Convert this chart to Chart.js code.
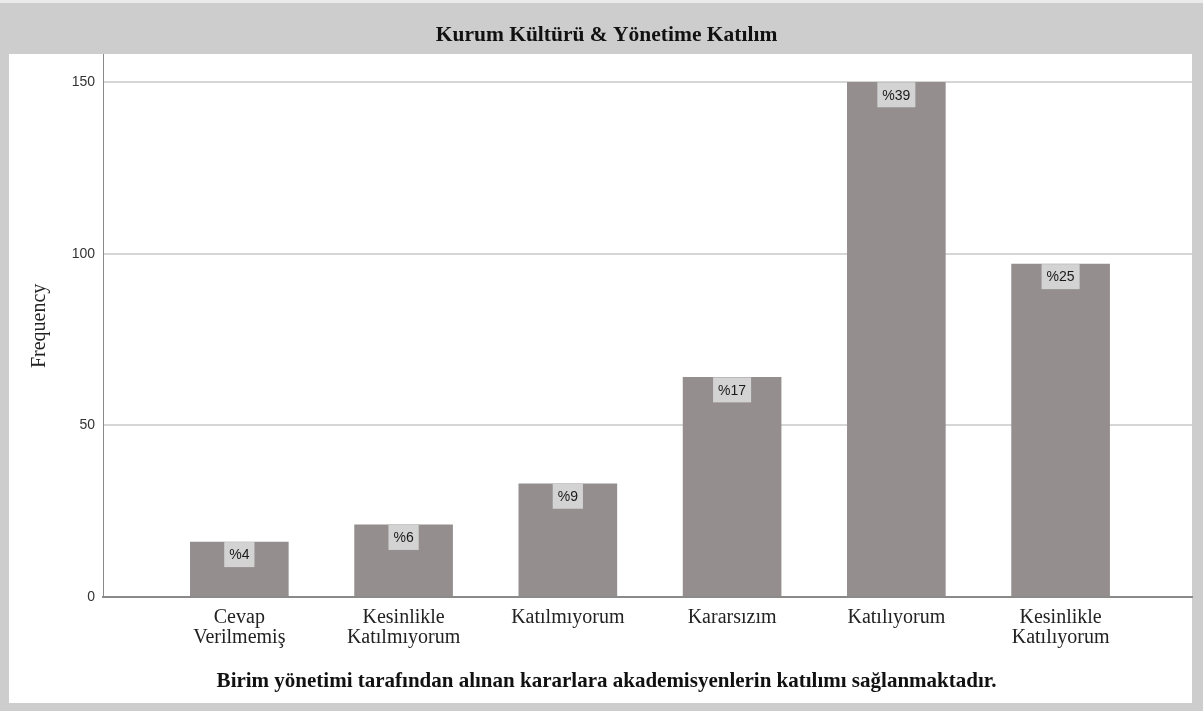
<!DOCTYPE html>
<html>
<head>
<meta charset="utf-8">
<script src="https://cdn.jsdelivr.net/npm/chart.js@4/dist/chart.umd.min.js"></script>
<style>
  html, body { margin: 0; padding: 0; background: #ffffff; }
  #wrap { width: 1203px; height: 711px; }
</style>
</head>
<body>
<div id="wrap"><canvas id="myChart" width="1203" height="711"></canvas></div>
<script>
// du lieu bieu do
var tickLabels = [
  ["Cevap", "Verilmemiş"],
  ["Kesinlikle", "Katılmıyorum"],
  "Katılmıyorum",
  "Kararsızım",
  "Katılıyorum",
  ["Kesinlikle", "Katılıyorum"]
];
var frequency = [16, 21, 33, 64, 150, 97];
var percentLabels = ["%4", "%6", "%9", "%17", "%39", "%25"];
var yTicks = [0, 50, 100, 150];

var chartTitle = "Kurum Kültürü & Yönetime Katılım";
var xTitle = "Birim yönetimi tarafından alınan kararlara akademisyenlerin katılımı sağlanmaktadır.";
var yTitle = "Frequency";

var serif = "'Liberation Serif', 'DejaVu Serif', serif";
var sans = "'Liberation Sans', Arial, sans-serif";

// khung xam + nen trang
var framePlugin = {
  id: "frame",
  beforeDraw: function (chart) {
    var ctx = chart.ctx;
    ctx.save();
    ctx.fillStyle = "#cdcdcd";
    ctx.fillRect(0, 0, chart.width, chart.height);
    ctx.fillStyle = "#ebebeb";
    ctx.fillRect(0, 0, chart.width, 3);
    ctx.fillStyle = "#ffffff";
    ctx.fillRect(9, 54, 1183, 649);
    ctx.restore();
  }
};

// nhan phan tram tren cot
var boxLabelPlugin = {
  id: "boxLabels",
  afterDatasetsDraw: function (chart) {
    var ctx = chart.ctx;
    var meta = chart.getDatasetMeta(0);
    ctx.save();
    ctx.font = "14px " + sans;
    ctx.textAlign = "center";
    ctx.textBaseline = "middle";
    meta.data.forEach(function (bar, i) {
      var txt = percentLabels[i];
      var w = ctx.measureText(txt).width + 10;
      var h = 25;
      ctx.fillStyle = "#d3d3d3";
      ctx.fillRect(bar.x - w / 2, bar.y, w, h);
      ctx.fillStyle = "#1a1a1a";
      ctx.fillText(txt, bar.x, bar.y + h / 2 + 1);
    });
    ctx.restore();
  }
};

var bars = frequency.map(function (v, i) { return { x: i, y: v }; });

const update = new Chart("myChart", {
  type: "bar",
  data: {
    datasets: [{
      data: bars,
      backgroundColor: "#948f8e",
      borderWidth: 0,
      barThickness: 98
    }]
  },
  plugins: [framePlugin, boxLabelPlugin],
  options: {
    responsive: false,
    animation: false,
    layout: { padding: { left: 21, right: 11, top: 0, bottom: 8 } },
    plugins: {
      legend: { display: false },
      tooltip: { enabled: false },
      title: {
        display: true,
        text: chartTitle,
        color: "#111111",
        font: { family: serif, size: 21.5, weight: "bold" },
        padding: { top: 23, bottom: 6 }
      },
      subtitle: {
        display: true,
        position: "bottom",
        text: xTitle,
        color: "#111111",
        font: { family: serif, size: 21, weight: "bold" },
        padding: { top: -7.6, bottom: 8.4 }
      }
    },
    scales: {
      x: {
        type: "linear",
        offset: false,
        min: -0.83,
        max: 5.80,
        afterBuildTicks: function (scale) {
          scale.ticks = tickLabels.map(function (_, i) { return { value: i }; });
        },
        afterFit: function (scale) { scale.height = 80; },
        grid: { display: false, drawTicks: false },
        border: { display: true, color: "#8a8a8a", width: 2 },
        ticks: {
          autoSkip: false,
          maxRotation: 0,
          padding: 11,
          color: "#222222",
          font: { family: serif, size: 20, lineHeight: 1.0 },
          callback: function (value) { return tickLabels[value]; }
        }
      },
      y: {
        min: 0,
        max: 158,
        afterBuildTicks: function (scale) {
          scale.ticks = yTicks.map(function (v) { return { value: v }; });
        },
        afterFit: function (scale) { scale.width = 82; },
        grid: { color: "#d6d6d6", lineWidth: 2, drawTicks: false },
        border: { display: true, color: "#8a8a8a", width: 1 },
        ticks: {
          padding: 8,
          color: "#333333",
          font: { family: sans, size: 14 }
        },
        title: {
          display: true,
          text: yTitle,
          color: "#222222",
          font: { family: serif, size: 20 },
          padding: { top: 7, bottom: 0 }
        }
      }
    }
  }
});
</script>
</body>
</html>
